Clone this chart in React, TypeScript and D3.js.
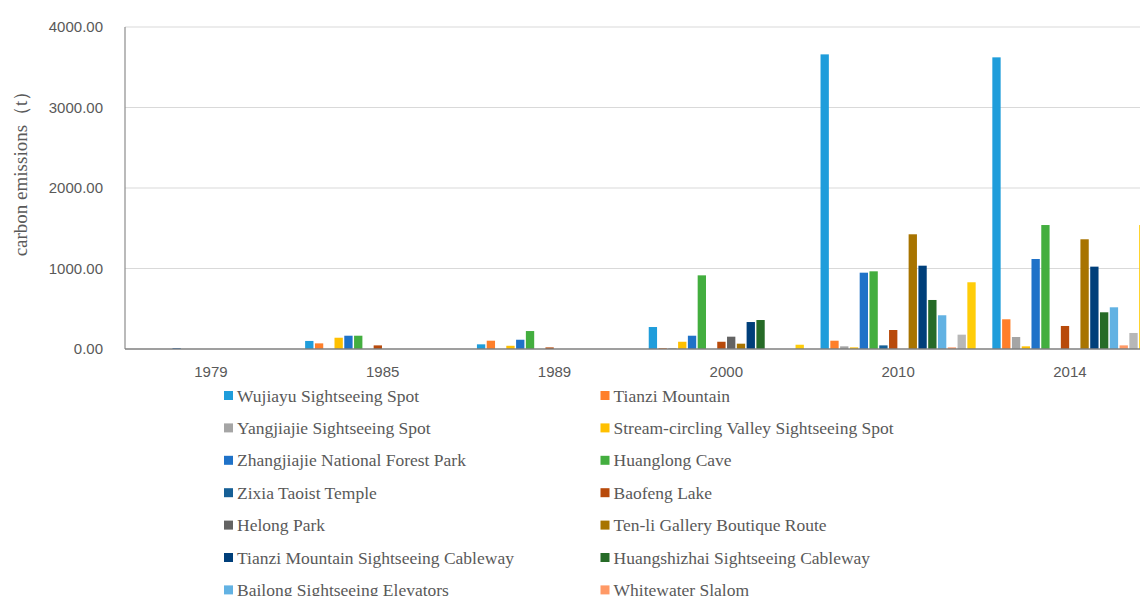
import React from "react";
import * as d3 from "d3";

const years = ["1979", "1985", "1989", "2000", "2010", "2014"];

const seriesNames = [
  "Wujiayu Sightseeing Spot",
  "Tianzi Mountain",
  "Yangjiajie Sightseeing Spot",
  "Stream-circling Valley Sightseeing Spot",
  "Zhangjiajie National Forest Park",
  "Huanglong Cave",
  "Zixia Taoist Temple",
  "Baofeng Lake",
  "Helong Park",
  "Ten-li Gallery Boutique Route",
  "Tianzi Mountain Sightseeing Cableway",
  "Huangshizhai Sightseeing Cableway",
  "Bailong Sightseeing Elevators",
  "Whitewater Slalom",
  "Series 15",
  "Series 16",
];

const seriesColors = [
  "#1F9DDB", "#FF7F2A", "#A5A5A5", "#FFC000", "#1F72C8", "#43AE3F",
  "#165F96", "#B84A0B", "#636363", "#A87400", "#003F7A", "#266B27",
  "#62B2E3", "#FF9966", "#B7B7B7", "#FFCD0A",
];

const wujiayu = [0, 100, 58, 273, 3660, 3623];
const tianzi = [0, 70, 103, 12, 103, 369];
const yangjiajie = [0, 0, 0, 10, 33, 149];
const streamCircling = [0, 140, 40, 90, 20, 33];
const zhangjiajie = [12, 165, 115, 165, 948, 1118];
const huanglong = [0, 165, 223, 915, 965, 1540];
const zixia = [0, 0, 0, 0, 45, 0];
const baofeng = [0, 45, 20, 90, 236, 286];
const helong = [0, 0, 0, 153, 0, 0];
const tenli = [0, 0, 0, 66, 1425, 1363];
const tianziCableway = [0, 0, 0, 335, 1035, 1023];
const huangshizhai = [0, 0, 0, 360, 609, 456];
const bailong = [0, 0, 0, 0, 419, 518];
const whitewater = [0, 0, 0, 0, 20, 45];
const series15 = [0, 0, 0, 0, 178, 199];
const series16 = [0, 0, 0, 53, 829, 1540];

const seriesValues = [
  wujiayu, tianzi, yangjiajie, streamCircling, zhangjiajie, huanglong, zixia,
  baofeng, helong, tenli, tianziCableway, huangshizhai, bailong, whitewater,
  series15, series16,
];

const yTicks = [0, 1000, 2000, 3000, 4000];

const W = 1140;
const H = 596;
const plotLeft = 125;
const bandW = 171.8;
const y0 = 349;
const yTop = 27;

export default function App() {
  const x = d3
    .scaleBand<string>()
    .domain(years)
    .range([plotLeft, plotLeft + bandW * years.length])
    .paddingInner(0)
    .paddingOuter(0);
  const pad = 7.6;
  const xi = d3
    .scaleBand<number>()
    .domain(d3.range(seriesNames.length))
    .range([pad, x.bandwidth() - pad])
    .paddingInner(0.15)
    .paddingOuter(0.075);
  const y = d3.scaleLinear().domain([0, 4000]).range([y0, yTop]);
  const fmt = d3.format(".2f");

  const legendRowY = (i: number) => 395.5 + Math.floor(i / 2) * 32.4;
  const legendColX = [224, 600.5];

  return (
    <svg
      width={W}
      height={H}
      style={{ position: "absolute", left: 0, top: 0, background: "#fff" }}
    >
      {yTicks.map((t) =>
        t === 0 ? null : (
          <line
            key={"g" + t}
            x1={plotLeft}
            x2={W}
            y1={y(t)}
            y2={y(t)}
            stroke="#D9D9D9"
            strokeWidth={1.2}
          />
        )
      )}
      {yTicks.map((t) => (
        <text
          key={"yt" + t}
          x={103}
          y={y(t) + 5}
          textAnchor="end"
          fontFamily="'Liberation Sans', Arial, sans-serif"
          fontSize={15}
          fill="#595959"
        >
          {fmt(t)}
        </text>
      ))}
      <text
        transform={`translate(27,169) rotate(-90)`}
        textAnchor="middle"
        fontFamily="'Liberation Serif', 'Times New Roman', serif"
        fontSize={19}
        fill="#595959"
      >
        carbon emissions（t）
      </text>
      {years.map((yr, ci) =>
        seriesValues.map((vals, si) => {
          const v = vals[ci];
          if (!v) return null;
          const bx = (x(yr) as number) + (xi(si) as number);
          return (
            <rect
              key={yr + "-" + si}
              x={bx}
              y={y(v)}
              width={xi.bandwidth()}
              height={y0 - y(v)}
              fill={seriesColors[si]}
            />
          );
        })
      )}
      <line x1={plotLeft} x2={plotLeft} y1={yTop} y2={y0} stroke="#8C8C8C" strokeWidth={1.2} />
      <line x1={plotLeft} x2={W} y1={y0} y2={y0} stroke="#7F7F7F" strokeWidth={1.5} />
      {years.map((yr) => (
        <text
          key={"xl" + yr}
          x={(x(yr) as number) + x.bandwidth() / 2}
          y={377}
          textAnchor="middle"
          fontFamily="'Liberation Sans', Arial, sans-serif"
          fontSize={15}
          fill="#595959"
        >
          {yr}
        </text>
      ))}
      {seriesNames.map((name, i) => {
        const ly = legendRowY(i);
        if (ly > H + 10) return null;
        const lx = legendColX[i % 2];
        return (
          <g key={"lg" + i}>
            <rect x={lx} y={ly - 4.5} width={9} height={9} fill={seriesColors[i]} />
            <text
              x={lx + 13}
              y={ly + 6}
              fontFamily="'Liberation Serif', 'Times New Roman', serif"
              fontSize={17.5}
              fill="#595959"
            >
              {name}
            </text>
          </g>
        );
      })}
    </svg>
  );
}
